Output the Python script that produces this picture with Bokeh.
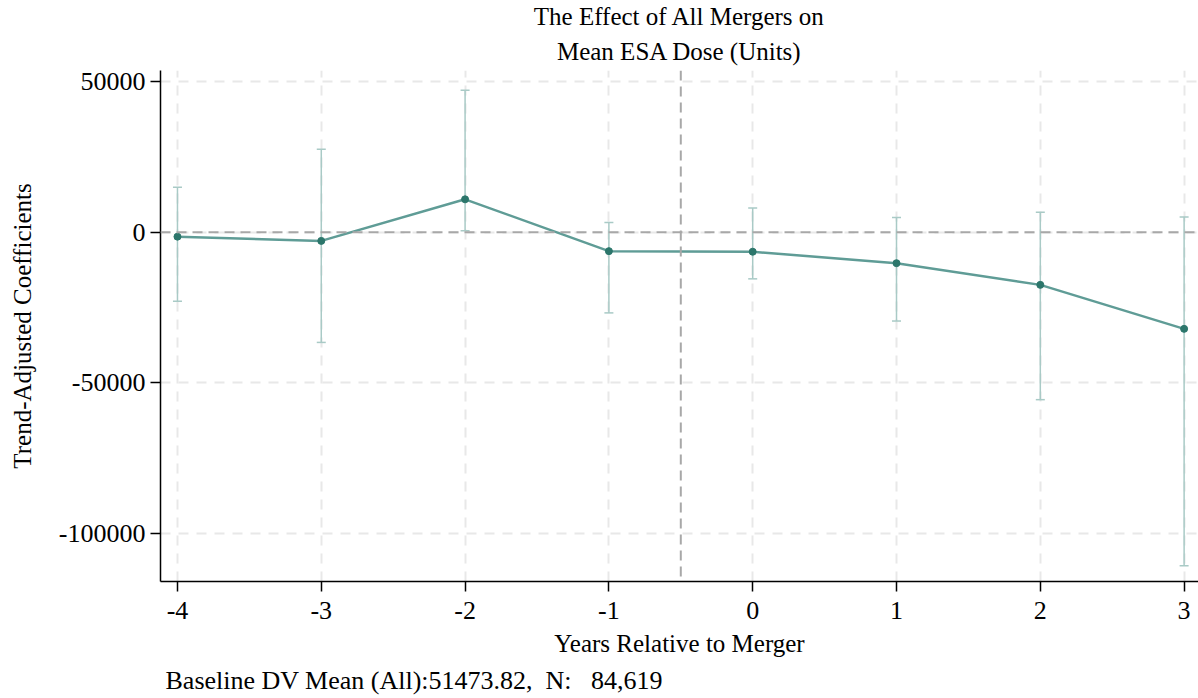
from bokeh.plotting import figure
from bokeh.models import (ColumnDataSource, Whisker, TeeHead, Span, FixedTicker, Title)
from bokeh.embed import file_html
from bokeh.resources import INLINE

years = [-4, -3, -2, -1, 0, 1, 2, 3]
coef = [-1500, -2900, 10900, -6300, -6500, -10300, -17500, -32100]
ci_upper = [14900, 27500, 47100, 3200, 8000, 4900, 6600, 5000]
ci_lower = [-22900, -36600, 500, -26800, -15500, -29500, -55600, -110700]
y_ticks = [-100000, -50000, 0, 50000]

FONT = "Liberation Serif"
FS = "26px"

p = figure(width=1198, height=698, output_backend="svg", toolbar_location=None,
           x_range=(-4.118, 3.1), y_range=(-115950, 53650),
           min_border_left=160, min_border_right=0, min_border_top=70,
           min_border_bottom=0)
p.title.text = "The Effect of All Mergers on"
p.title.align = "center"
p.title.text_font = FONT
p.title.text_font_style = "normal"
p.title.text_font_size = "25px"
p.title.text_color = "#000000"
p.title.text_line_height = 0.9
p.title.standoff = 0
p.title.offset = 0
line2 = Title(text="Mean ESA Dose (Units)", align="center", text_font=FONT,
              text_font_style="normal", text_font_size="25px", text_color="#000000",
              text_line_height=0.9, standoff=12)
p.add_layout(line2, "above")

p.outline_line_color = None
p.background_fill_color = "white"
p.border_fill_color = "white"

# grids
for g in (p.xgrid, p.ygrid):
    g.grid_line_color = "#e8e8e8"
    g.grid_line_dash = "10 8"
    g.grid_line_width = 2

p.xaxis.ticker = FixedTicker(ticks=years)
p.yaxis.ticker = FixedTicker(ticks=y_ticks)
p.yaxis.major_label_overrides = {t: str(t) for t in y_ticks}
p.xaxis.major_label_overrides = {t: str(t) for t in years}

for ax in (p.xaxis[0], p.yaxis[0]):
    ax.axis_line_color = "black"
    ax.axis_line_width = 1.5
    ax.major_tick_line_color = "black"
    ax.major_tick_line_width = 1.5
    ax.major_tick_out = 10
    ax.major_tick_in = 0
    ax.minor_tick_line_color = None
    ax.major_label_text_font = FONT
    ax.major_label_text_font_size = FS
    ax.major_label_text_color = "black"
    ax.axis_label_text_font = FONT
    ax.axis_label_text_font_size = "25px"
    ax.axis_label_text_font_style = "normal"
    ax.axis_label_text_color = "black"

p.yaxis.major_label_orientation = "horizontal"
p.yaxis.major_label_standoff = 5
p.xaxis.major_label_standoff = 10
p.xaxis.axis_label = "Years Relative to Merger"
p.yaxis.axis_label = "Trend-Adjusted Coefficients"
p.xaxis.axis_label_standoff = 8
p.yaxis.axis_label_standoff = 20

# reference lines
p.add_layout(Span(location=0, dimension="width", line_color="#a8a8a8",
                  line_dash="10 6", line_width=2))
p.add_layout(Span(location=-0.5, dimension="height", line_color="#a8a8a8",
                  line_dash="10 6", line_width=2))

src = ColumnDataSource(dict(x=years, y=coef, upper=ci_upper, lower=ci_lower))
ci_color = "#a9cac6"
p.add_layout(Whisker(source=src, base="x", upper="upper", lower="lower",
                     dimension="height", line_color=ci_color, line_width=1.5,
                     upper_head=TeeHead(size=9, line_color=ci_color, line_width=1.5),
                     lower_head=TeeHead(size=9, line_color=ci_color, line_width=1.5)))

p.line("x", "y", source=src, line_color="#5f9c96", line_width=2.5)
p.scatter("x", "y", source=src, size=7, color="#2c766b")

note_text = "Baseline DV Mean (All):51473.82,\u00a0\u00a0N:\u00a0\u00a0\u00a084,619"
note = Title(text=note_text, align="left",
             text_font=FONT, text_font_size=FS, text_font_style="normal",
             text_color="black", offset=5, standoff=8)
p.add_layout(note, "below")

open("out.html", "w").write(file_html(p, INLINE))
